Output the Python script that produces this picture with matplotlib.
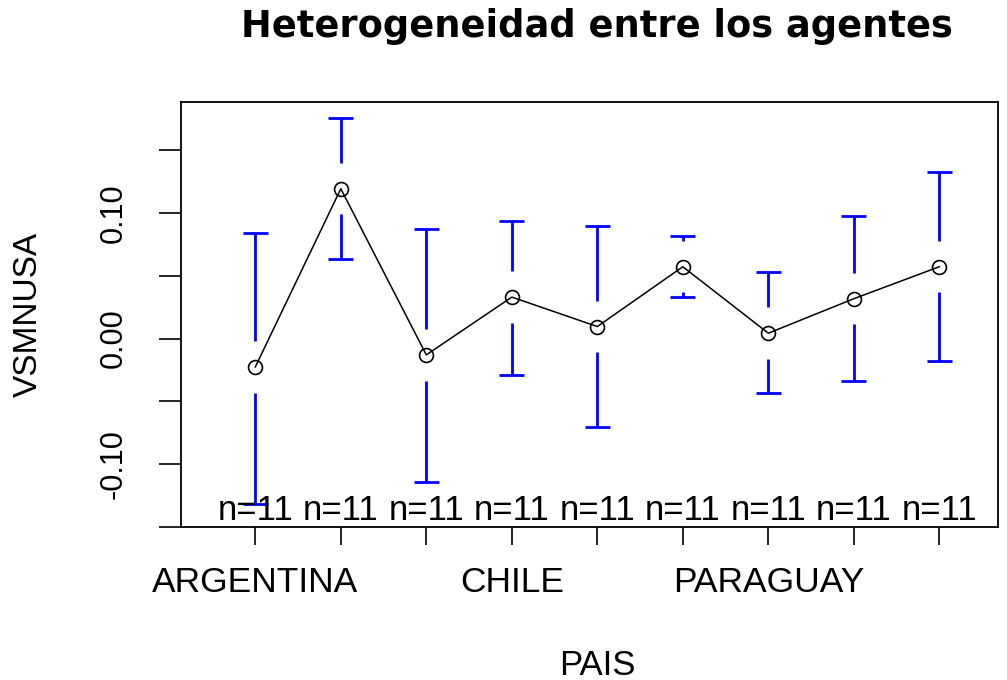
import matplotlib
matplotlib.use("Agg")
import matplotlib.pyplot as plt
import matplotlib.transforms as mtransforms

# ---- data ----
paises = ["ARGENTINA", "BOLIVIA", "BRASIL", "CHILE", "COLOMBIA",
          "ECUADOR", "PARAGUAY", "PERU", "URUGUAY"]
shown_labels = ["ARGENTINA", "", "", "CHILE", "", "", "PARAGUAY", "", ""]
means = [-0.0226, 0.1195, -0.0130, 0.0331, 0.0096, 0.0573, 0.0043, 0.0318, 0.0573]
upper = [0.0842, 0.1759, 0.0876, 0.0939, 0.0895, 0.0816, 0.0528, 0.0975, 0.1329]
lower = [-0.1318, 0.0635, -0.1143, -0.0291, -0.0708, 0.0331, -0.0436, -0.0342, -0.0181]
n_obs = [11, 11, 11, 11, 11, 11, 11, 11, 11]
yticks = [-0.15, -0.10, -0.05, 0.00, 0.05, 0.10, 0.15]
ytick_labels = ["", "-0.10", "", "0.00", "", "0.10", ""]

plt.rcParams['font.family'] = ['Liberation Sans', 'DejaVu Sans']

W, H = 1007, 680
fig = plt.figure(figsize=(W / 100, H / 100), dpi=100)
L, R, T, B = 181, 998, 101.7, 526.7
ax = fig.add_axes([L / W, 1 - B / H, (R - L) / W, (B - T) / H])

x = list(range(1, len(paises) + 1))
ax.set_xlim(0.131, 9.686)
ax.set_ylim(-0.1449, 0.1889)

# error bars with gap around the mean (like gplots::plotmeans)
gap = 0.0205
cap = 0.146
for xi, m, lo, up in zip(x, means, lower, upper):
    if up > m + gap:
        ax.plot([xi, xi], [m + gap, up], color='blue', lw=2, solid_capstyle='butt')
    if lo < m - gap:
        ax.plot([xi, xi], [m - gap, lo], color='blue', lw=2, solid_capstyle='butt')
    ax.plot([xi - cap, xi + cap], [up, up], color='blue', lw=2, solid_capstyle='butt')
    ax.plot([xi - cap, xi + cap], [lo, lo], color='blue', lw=2, solid_capstyle='butt')

ax.plot(x, means, color='black', lw=1.1, marker='o', markersize=10,
        markerfacecolor='none', markeredgecolor='black', markeredgewidth=1.2)

trans = mtransforms.blended_transform_factory(ax.transData, ax.transAxes)
for xi, n in zip(x, n_obs):
    ax.text(xi, 0.0158, f"n={n}", transform=trans, ha='center', va='baseline',
            fontsize=25, color='black')

ax.set_xticks(x)
ax.set_xticklabels(shown_labels, fontsize=25.5)
ax.set_yticks(yticks)
ax.set_yticklabels(ytick_labels, fontsize=22, rotation=90, va='center')
ax.tick_params(axis='x', length=13, width=1.2, pad=15)
ax.tick_params(axis='y', length=15.5, width=1.2, pad=22)
for s in ax.spines.values():
    s.set_linewidth(1.3)

fig.text(597 / W, 1 - 37.3 / H, "Heterogeneidad entre los agentes",
         ha='center', va='baseline', fontsize=26.5, fontweight='bold',
         family=['DejaVu Sans'])
fig.text(597 / W, 1 - 675 / H, "PAIS", ha='center', va='baseline', fontsize=25)
fig.text(28.5 / W, 1 - 314 / H, "VSMNUSA", ha='center', va='center',
         rotation=90, fontsize=24)

fig.savefig("out.png", dpi=100)
